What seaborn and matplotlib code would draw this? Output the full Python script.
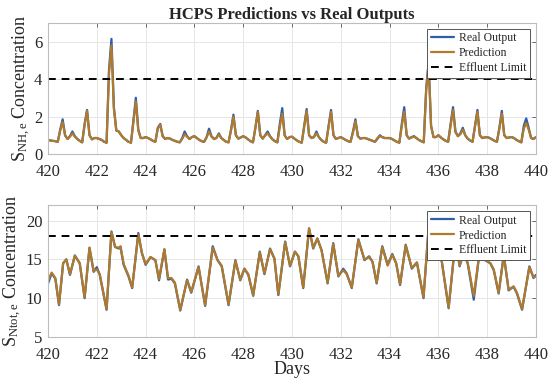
import numpy as np
import pandas as pd
import matplotlib
matplotlib.use("Agg")
import matplotlib.pyplot as plt
import seaborn as sns

sns.set_style("whitegrid")
plt.rcParams['font.family'] = ['Liberation Serif', 'DejaVu Serif']
plt.rcParams['mathtext.fontset'] = 'custom'
plt.rcParams['mathtext.rm'] = 'Liberation Serif'
plt.rcParams['mathtext.it'] = 'Liberation Serif:italic'

# ---- S_NH,e (sampled every 0.1 day, 420 -> 440) ----
nh_days = np.round(np.arange(420.0, 440.05, 0.1), 1)
nh_real = [
    0.75, 0.72, 0.70, 0.68, 0.65, 1.30, 1.85, 1.00, 0.80, 0.95,   # 420
    1.20, 0.95, 0.80, 0.70, 0.62, 1.60, 2.35, 1.00, 0.78, 0.85,   # 421
    0.85, 0.80, 0.75, 0.65, 0.60, 4.50, 6.15, 2.50, 1.25, 1.20,   # 422
    1.00, 0.85, 0.75, 0.65, 0.60, 1.80, 3.00, 1.30, 0.85, 0.85,   # 423
    0.90, 0.85, 0.78, 0.70, 0.65, 1.40, 1.60, 0.95, 0.80, 0.85,   # 424
    0.82, 0.75, 0.70, 0.65, 0.62, 0.85, 1.20, 0.95, 0.80, 0.90,   # 425
    0.95, 0.85, 0.75, 0.68, 0.65, 0.90, 1.35, 0.95, 0.80, 0.85,   # 426
    1.10, 0.85, 0.75, 0.65, 0.62, 1.30, 2.10, 1.00, 0.82, 0.88,   # 427
    0.95, 0.88, 0.78, 0.68, 0.62, 1.40, 2.30, 1.00, 0.82, 1.00,   # 428
    1.20, 0.95, 0.78, 0.68, 0.62, 1.60, 2.45, 1.00, 0.80, 0.90,   # 429
    0.92, 0.82, 0.72, 0.65, 0.60, 1.50, 2.40, 1.00, 0.85, 0.90,   # 430
    1.20, 0.90, 0.75, 0.65, 0.60, 1.50, 2.35, 1.00, 0.80, 0.85,   # 431
    0.90, 0.82, 0.75, 0.68, 0.65, 1.20, 1.85, 0.95, 0.82, 0.85,   # 432
    0.85, 0.80, 0.75, 0.70, 0.65, 0.80, 1.00, 0.90, 0.85, 0.85,   # 433
    0.85, 0.80, 0.72, 0.65, 0.60, 1.60, 2.50, 1.00, 0.82, 0.90,   # 434
    0.95, 0.85, 0.75, 0.68, 0.62, 3.50, 4.90, 1.50, 0.90, 0.90,   # 435
    1.00, 0.88, 0.78, 0.70, 0.65, 1.60, 2.50, 1.20, 0.95, 1.10,   # 436
    1.40, 1.00, 0.82, 0.72, 0.65, 1.50, 2.35, 1.00, 0.85, 0.88,   # 437
    0.90, 0.85, 0.78, 0.70, 0.65, 1.40, 2.30, 1.00, 0.85, 0.88,   # 438
    0.90, 0.85, 0.75, 0.68, 0.62, 1.50, 1.90, 1.40, 0.85, 0.80,   # 439
    0.90,
]
nh_pred = [
    0.75, 0.72, 0.70, 0.68, 0.65, 1.25, 1.70, 0.98, 0.80, 0.92,
    1.10, 0.92, 0.80, 0.70, 0.62, 1.55, 2.30, 1.00, 0.78, 0.85,
    0.85, 0.80, 0.75, 0.65, 0.60, 4.30, 5.80, 2.40, 1.25, 1.20,
    1.00, 0.85, 0.75, 0.65, 0.60, 1.70, 2.80, 1.25, 0.85, 0.85,
    0.90, 0.85, 0.78, 0.70, 0.65, 1.35, 1.55, 0.95, 0.80, 0.85,
    0.82, 0.75, 0.70, 0.65, 0.62, 0.80, 1.05, 0.92, 0.80, 0.90,
    0.95, 0.85, 0.75, 0.68, 0.65, 0.88, 1.20, 0.92, 0.80, 0.85,
    1.05, 0.85, 0.75, 0.65, 0.62, 1.25, 2.00, 1.00, 0.82, 0.88,
    0.95, 0.88, 0.78, 0.68, 0.62, 1.40, 2.25, 1.00, 0.82, 0.98,
    1.10, 0.92, 0.78, 0.68, 0.62, 1.45, 2.15, 0.98, 0.80, 0.90,
    0.92, 0.82, 0.72, 0.65, 0.60, 1.45, 2.30, 1.00, 0.85, 0.90,
    1.10, 0.90, 0.75, 0.65, 0.60, 1.45, 2.25, 1.00, 0.80, 0.85,
    0.90, 0.82, 0.75, 0.68, 0.65, 1.15, 1.75, 0.95, 0.82, 0.85,
    0.85, 0.80, 0.75, 0.70, 0.65, 0.85, 0.95, 0.90, 0.85, 0.85,
    0.85, 0.80, 0.72, 0.65, 0.60, 1.50, 2.25, 1.00, 0.82, 0.88,
    0.92, 0.85, 0.75, 0.68, 0.62, 3.40, 4.85, 1.50, 0.90, 0.90,
    1.00, 0.88, 0.78, 0.70, 0.65, 1.50, 2.35, 1.15, 0.95, 1.05,
    1.30, 1.00, 0.82, 0.72, 0.65, 1.45, 2.25, 1.00, 0.85, 0.88,
    0.90, 0.85, 0.78, 0.70, 0.65, 1.35, 2.15, 1.00, 0.85, 0.88,
    0.90, 0.85, 0.75, 0.68, 0.62, 1.35, 1.65, 1.30, 0.85, 0.80,
    0.90,
]
nh_limit = 4

# ---- S_Ntot,e (read at turning points) ----
tn_days = [
    420.0, 420.15, 420.3, 420.45, 420.62, 420.75, 420.9, 421.1, 421.3, 421.5,
    421.7, 421.87, 422.0, 422.12, 422.4, 422.6, 422.75, 422.9, 422.97, 423.1,
    423.3, 423.45, 423.7, 423.85, 424.0, 424.2, 424.4, 424.55, 424.77, 424.92,
    425.06, 425.2, 425.42, 425.7, 425.87, 426.17, 426.44, 426.75, 426.95, 427.12,
    427.4, 427.68, 427.88, 428.05, 428.21, 428.41, 428.68, 428.87, 429.1, 429.28,
    429.44, 429.72, 429.92, 430.12, 430.26, 430.46, 430.7, 430.87, 431.04, 431.21,
    431.46, 431.69, 431.9, 432.1, 432.24, 432.45, 432.72, 432.97, 433.16, 433.3,
    433.47, 433.7, 433.92, 434.11, 434.27, 434.43, 434.66, 434.91, 435.12, 435.39,
    435.62, 435.8, 435.94, 436.08, 436.42, 436.7, 436.87, 437.03, 437.2, 437.45,
    437.72, 437.92, 438.13, 438.27, 438.47, 438.68, 438.88, 439.08, 439.22, 439.43,
    439.73, 439.9, 440.0,
]
tn_real = [
    11.9, 13.2, 12.5, 9.1, 14.5, 15.0, 13.0, 15.5, 14.5, 10.0,
    16.5, 13.4, 14.0, 13.0, 8.5, 18.6, 16.6, 16.4, 16.6, 14.3,
    12.8, 11.3, 18.4, 15.8, 14.3, 15.3, 14.9, 12.3, 16.3, 12.4,
    12.5, 11.9, 8.4, 12.4, 10.7, 14.1, 9.0, 16.7, 14.9, 14.1,
    9.1, 14.9, 12.3, 13.8, 13.0, 10.3, 16.0, 13.1, 16.4, 15.1,
    10.4, 17.3, 14.1, 16.0, 15.4, 11.3, 19.0, 16.4, 17.7, 16.2,
    11.9, 17.1, 12.8, 13.8, 13.2, 11.3, 17.6, 14.9, 15.4, 14.7,
    11.9, 16.7, 14.3, 15.7, 14.5, 11.7, 16.9, 13.8, 14.6, 10.0,
    20.0, 16.2, 15.4, 16.0, 8.7, 17.5, 14.1, 15.8, 14.5, 9.8,
    16.8, 14.9, 14.5, 13.6, 10.6, 15.6, 11.0, 11.5, 10.6, 8.5,
    14.1, 12.6, 13.0,
]
tn_pred = [
    12.3, 13.3, 12.6, 9.2, 14.5, 15.0, 13.1, 15.5, 14.5, 10.1,
    16.5, 13.5, 13.7, 13.1, 8.6, 18.5, 16.6, 16.5, 16.7, 14.4,
    12.9, 11.4, 18.2, 15.8, 14.4, 15.3, 14.9, 12.5, 16.3, 12.6,
    12.6, 12.0, 8.5, 12.3, 10.8, 14.0, 9.1, 16.5, 14.9, 14.2,
    9.2, 14.8, 12.4, 13.8, 13.1, 10.4, 15.9, 13.2, 16.3, 15.1,
    10.5, 17.2, 14.2, 16.0, 15.4, 11.4, 19.0, 16.5, 17.7, 16.2,
    12.0, 17.0, 12.9, 13.6, 13.1, 11.4, 17.5, 15.0, 15.3, 14.7,
    12.0, 16.6, 14.2, 15.6, 14.5, 11.8, 16.8, 13.9, 14.6, 10.1,
    19.9, 16.2, 15.5, 16.0, 8.8, 17.4, 14.2, 15.8, 14.6, 10.3,
    16.7, 14.9, 14.5, 13.7, 10.7, 15.5, 11.1, 11.5, 10.7, 8.6,
    14.0, 12.7, 12.8,
]
tn_limit = 18

real_color = "#2E5FA8"
pred_color = "#B07A2C"


def style_ax(ax, ylim, yticks):
    ax.set_xlim(420, 440)
    ax.set_ylim(*ylim)
    ax.set_xticks(range(420, 441, 2))
    ax.set_yticks(yticks)
    ax.grid(True, color="#e6e6e6", lw=0.7)
    for s in ax.spines.values():
        s.set_color("#bdbdbd")
        s.set_linewidth(0.8)
    ax.tick_params(direction="in", length=3, width=0.6, color="#555555",
                   labelsize=12, top=True, right=True)
    ax.tick_params(axis="x", pad=7)
    ax.tick_params(axis="y", pad=4)
    ax.set_xlabel("")
    leg = ax.legend(loc="upper right", fontsize=8.5, frameon=True, fancybox=False,
                    edgecolor="#555555", framealpha=1, borderpad=0.3,
                    labelspacing=0.25, handlelength=2.0, handletextpad=0.4,
                    borderaxespad=0.5)
    leg.get_frame().set_linewidth(0.7)


fig = plt.figure(figsize=(5.5, 3.82), dpi=100)
ax1 = fig.add_axes([0.0873, 0.597, 0.8872, 0.343])
ax2 = fig.add_axes([0.0873, 0.118, 0.8872, 0.345])

top = pd.DataFrame({"day": nh_days, "real": nh_real, "pred": nh_pred})
sns.lineplot(data=top, x="day", y="real", ax=ax1, color=real_color, lw=1.6, label="Real Output")
sns.lineplot(data=top, x="day", y="pred", ax=ax1, color=pred_color, lw=1.6, label="Prediction")
ax1.axhline(nh_limit, color="black", ls="--", lw=1.4, dashes=(4, 3), label="Effluent Limit")
style_ax(ax1, (0, 7), [0, 2, 4, 6])
ax1.set_ylabel(r"S$_{\mathrm{NH,e}}$ Concentration", fontsize=13, labelpad=1)
ax1.set_title("HCPS Predictions vs Real Outputs", fontsize=12, fontweight="bold", pad=3)

bot = pd.DataFrame({"day": tn_days, "real": tn_real, "pred": tn_pred})
sns.lineplot(data=bot, x="day", y="real", ax=ax2, color=real_color, lw=1.6, label="Real Output")
sns.lineplot(data=bot, x="day", y="pred", ax=ax2, color=pred_color, lw=1.6, label="Prediction")
ax2.axhline(tn_limit, color="black", ls="--", lw=1.4, dashes=(4, 3), label="Effluent Limit")
style_ax(ax2, (5, 22), [5, 10, 15, 20])
ax2.set_ylabel(r"S$_{\mathrm{Ntot,e}}$ Concentration", fontsize=13, labelpad=1)
ax2.set_xlabel("Days", fontsize=13, labelpad=-1)

fig.savefig("out.png", dpi=100)
